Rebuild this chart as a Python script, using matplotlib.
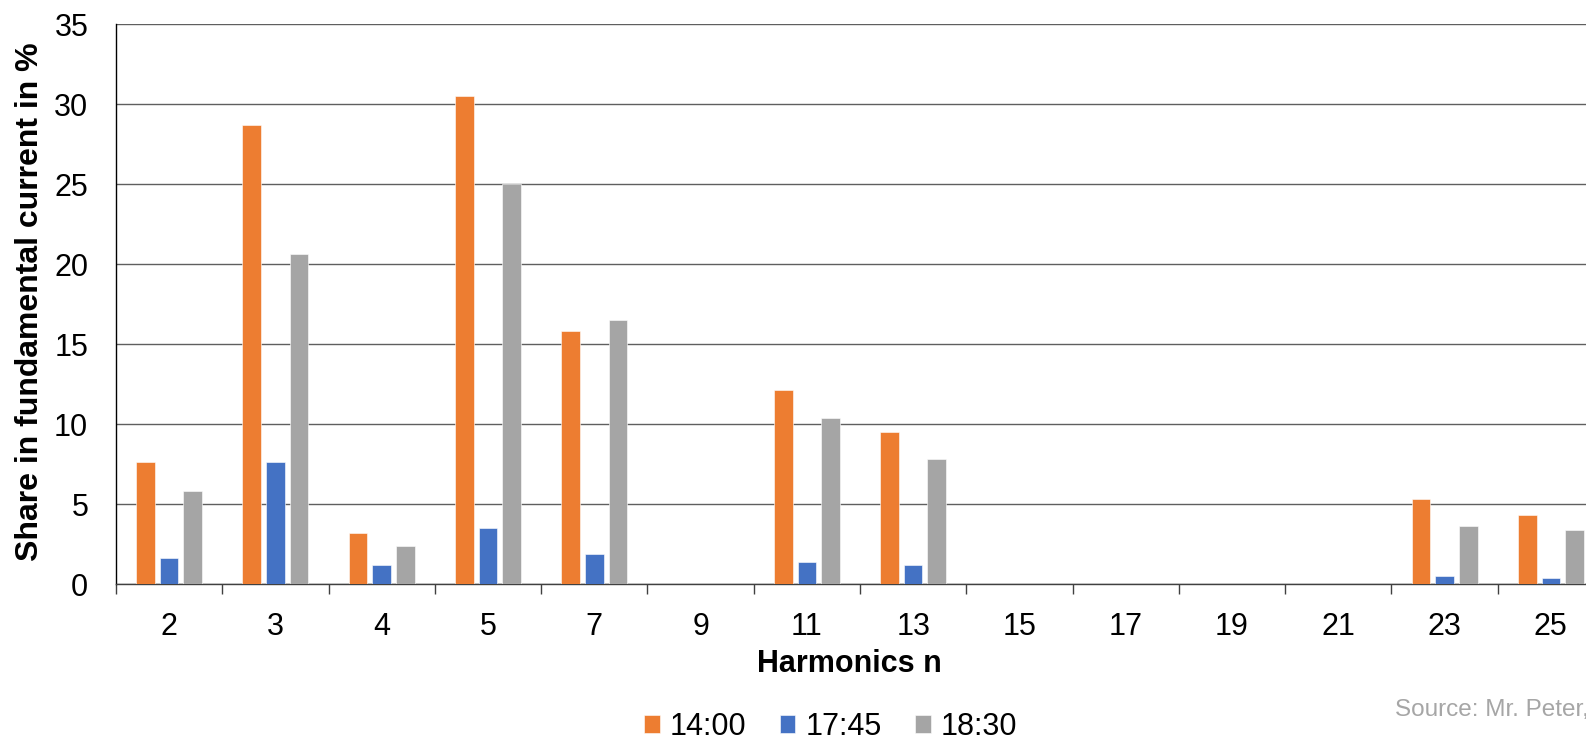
import numpy as np
import matplotlib.pyplot as plt

plt.rcParams['font.family'] = ['Liberation Sans', 'DejaVu Sans']

harmonics = ['2', '3', '4', '5', '7', '9', '11', '13', '15', '17', '19', '21', '23', '25']
share_1400 = [7.6, 28.7, 3.2, 30.5, 15.8, 0, 12.1, 9.5, 0, 0, 0, 0, 5.3, 4.3]
share_1745 = [1.6, 7.6, 1.2, 3.5, 1.9, 0, 1.4, 1.2, 0, 0, 0, 0, 0.5, 0.4]
share_1830 = [5.8, 20.6, 2.4, 25.0, 16.5, 0, 10.4, 7.8, 0, 0, 0, 0, 3.6, 3.4]
series_labels = ['14:00', '17:45', '18:30']
colors = ['#ED7D31', '#4472C4', '#A5A5A5']

fig = plt.figure(figsize=(15.86, 7.41), dpi=100)
# plot area runs past the right edge of the figure
ax = fig.add_axes([116 / 1586, 157 / 741, 1488 / 1586, 560 / 741])

x = np.arange(len(harmonics))
width = 0.176
step = 0.223
for i, (vals, lab, col) in enumerate(zip([share_1400, share_1745, share_1830], series_labels, colors)):
    ax.bar(x + (i - 1) * step, vals, width, color=col, label=lab,
           edgecolor='white', linewidth=0.4, zorder=3)

ax.set_xlim(-0.5, len(harmonics) - 0.5)
ax.set_ylim(0, 35)
ax.set_yticks(np.arange(0, 36, 5))
ax.yaxis.grid(True, color='#5f5f5f', linewidth=1.0, zorder=0)
ax.tick_params(axis='y', length=0, pad=20, labelsize=22)

# category boundaries get tick marks, centers get the labels
ax.set_xticks(np.arange(-0.5, len(harmonics), 1.0))
ax.set_xticklabels([])
ax.set_xticks(x, minor=True)
ax.set_xticklabels(harmonics, minor=True)
ax.tick_params(axis='x', which='major', length=7, width=1.0, color='#404040', direction='out')
ax.tick_params(axis='x', which='minor', length=0, pad=20, labelsize=22)

for side in ['top', 'right']:
    ax.spines[side].set_visible(False)
ax.spines['left'].set_color('black')
ax.spines['bottom'].set_color('#404040')
ax.spines['left'].set_linewidth(1.0)
ax.spines['bottom'].set_linewidth(1.0)

ax.set_ylabel('Share in fundamental current in %', fontsize=23, fontweight='bold')
ax.yaxis.set_label_coords(-0.0477, 0.504)
fig.text(849 / 1586, 1 - 672 / 741, 'Harmonics n', fontsize=22, fontweight='bold',
         ha='center', va='baseline')

fig.legend(loc='center', bbox_to_anchor=(0.5237, 1 - 727 / 741), ncol=3, frameon=False,
           fontsize=22, handlelength=0.52, handleheight=0.52, handletextpad=0.33,
           columnspacing=1.08, borderpad=0, borderaxespad=0)

fig.text(1395 / 1586, 1 - 716 / 741, 'Source: Mr. Peter, Institute of Energy Technology',
         fontsize=17.5, color='#A6A6A6', ha='left', va='baseline')

fig.savefig('out.png', dpi=100)
